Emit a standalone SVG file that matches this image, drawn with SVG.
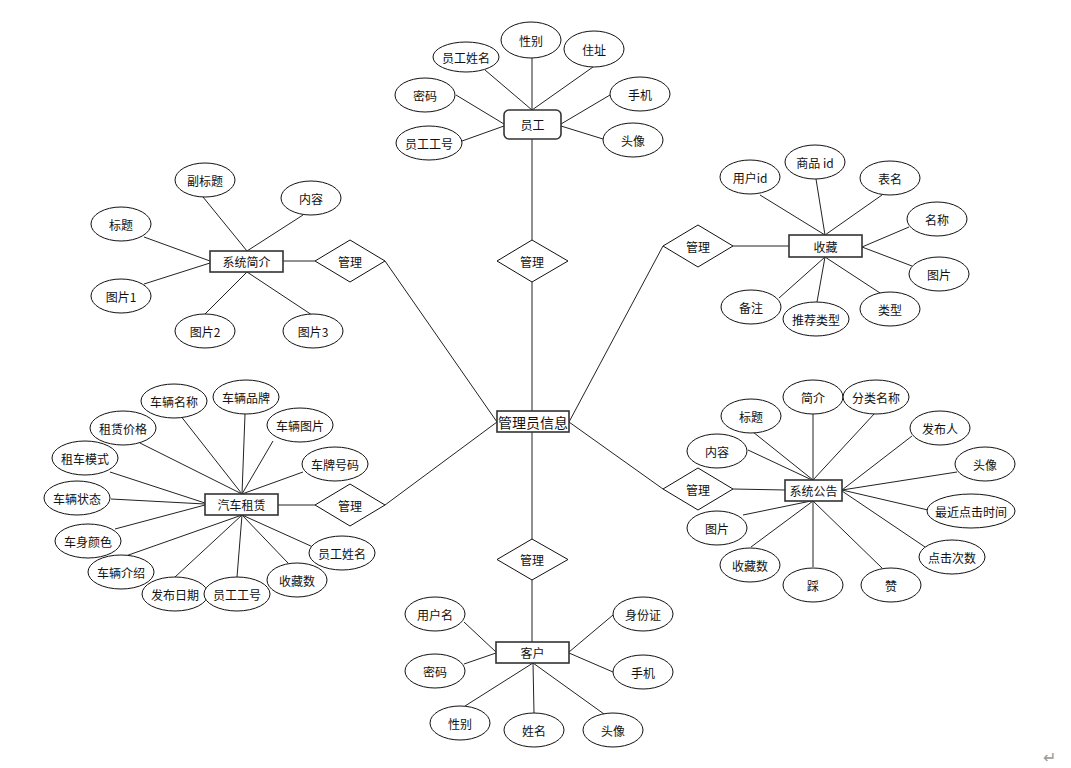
<svg xmlns="http://www.w3.org/2000/svg" width="1071" height="768" viewBox="0 0 1071 768">
<style>
text{font-family:"Noto Sans CJK SC","Liberation Sans",sans-serif;font-size:12px;fill:#111;text-anchor:middle;dominant-baseline:central}
.e{fill:#fff;stroke:#111;stroke-width:1}
.r{fill:#fff;stroke:#333;stroke-width:1.6}
.d{fill:#fff;stroke:#111;stroke-width:1}
#conn line{stroke:#222;stroke-width:1}
.big{font-size:14px}
</style>
<rect width="1071" height="768" fill="#fff"/>
<g id="conn">
<line x1="532" y1="139" x2="532" y2="240"/>
<line x1="532" y1="282" x2="532" y2="411"/>
<line x1="532" y1="432" x2="532" y2="539"/>
<line x1="532" y1="580" x2="532" y2="642"/>
<line x1="385" y1="261" x2="497" y2="422"/>
<line x1="283" y1="261" x2="315" y2="261"/>
<line x1="385" y1="505" x2="497" y2="422"/>
<line x1="278" y1="505" x2="315" y2="505"/>
<line x1="663" y1="246" x2="569" y2="422"/>
<line x1="733" y1="246" x2="789" y2="246"/>
<line x1="663" y1="489" x2="569" y2="422"/>
<line x1="733" y1="489" x2="785" y2="490"/>
<line x1="485" y1="70" x2="532" y2="110"/>
<line x1="532" y1="58" x2="532" y2="110"/>
<line x1="593" y1="67" x2="532" y2="110"/>
<line x1="456" y1="95" x2="504" y2="124"/>
<line x1="462" y1="141" x2="504" y2="126"/>
<line x1="610" y1="95" x2="561" y2="124"/>
<line x1="603" y1="139" x2="561" y2="126"/>
<line x1="464" y1="622" x2="496" y2="652"/>
<line x1="464" y1="664" x2="496" y2="653"/>
<line x1="465" y1="706" x2="533" y2="663"/>
<line x1="534" y1="713" x2="533" y2="663"/>
<line x1="604" y1="714" x2="533" y2="663"/>
<line x1="613" y1="615" x2="569" y2="652"/>
<line x1="613" y1="672" x2="569" y2="653"/>
<line x1="203" y1="197" x2="247" y2="251"/>
<line x1="303" y1="215" x2="247" y2="251"/>
<line x1="144" y1="237" x2="210" y2="261"/>
<line x1="144" y1="284" x2="210" y2="263"/>
<line x1="204" y1="315" x2="247" y2="272"/>
<line x1="312" y1="315" x2="247" y2="272"/>
<line x1="760" y1="195" x2="825" y2="235"/>
<line x1="816" y1="179" x2="825" y2="235"/>
<line x1="882" y1="195" x2="825" y2="235"/>
<line x1="909" y1="227" x2="862" y2="247"/>
<line x1="912" y1="266" x2="862" y2="247"/>
<line x1="880" y1="293" x2="825" y2="257"/>
<line x1="817" y1="302" x2="825" y2="257"/>
<line x1="779" y1="298" x2="825" y2="257"/>
<line x1="180" y1="415" x2="242" y2="494"/>
<line x1="245" y1="414" x2="242" y2="494"/>
<line x1="273" y1="441" x2="242" y2="494"/>
<line x1="303" y1="472" x2="242" y2="494"/>
<line x1="140" y1="443" x2="242" y2="494"/>
<line x1="110" y1="472" x2="205" y2="503"/>
<line x1="111" y1="499" x2="205" y2="504"/>
<line x1="115" y1="529" x2="205" y2="505"/>
<line x1="120" y1="558" x2="242" y2="515"/>
<line x1="175" y1="577" x2="242" y2="515"/>
<line x1="237" y1="577" x2="242" y2="515"/>
<line x1="288" y1="563" x2="242" y2="515"/>
<line x1="313" y1="547" x2="242" y2="515"/>
<line x1="753" y1="432" x2="813" y2="480"/>
<line x1="813" y1="413" x2="813" y2="480"/>
<line x1="875" y1="413" x2="813" y2="480"/>
<line x1="748" y1="450" x2="812" y2="480"/>
<line x1="912" y1="436" x2="842" y2="490"/>
<line x1="957" y1="472" x2="842" y2="490"/>
<line x1="928" y1="510" x2="842" y2="490"/>
<line x1="925" y1="547" x2="842" y2="491"/>
<line x1="882" y1="568" x2="813" y2="501"/>
<line x1="813" y1="567" x2="813" y2="501"/>
<line x1="751" y1="547" x2="813" y2="501"/>
<line x1="743" y1="515" x2="811" y2="501"/>
</g>
<g id="admin"><rect class="r" x="497" y="411" width="72" height="21"/><text class="big" x="533" y="421.5">管理员信息</text></g>
<g id="d_top"><polygon class="d" points="532,240 568,261 532,282 497,261"/><text x="532" y="261">管理</text></g>
<g id="d_bottom"><polygon class="d" points="532,539 568,559.5 532,580 497,559.5"/><text x="532" y="559.5">管理</text></g>
<g id="d_lt"><polygon class="d" points="350,240 385,261 350,282 315,261"/><text x="350" y="261">管理</text></g>
<g id="d_lb"><polygon class="d" points="350,484 385,505 350,526 315,505"/><text x="350" y="505">管理</text></g>
<g id="d_rt"><polygon class="d" points="698,225 733,246 698,267 663,246"/><text x="698" y="246">管理</text></g>
<g id="d_rb"><polygon class="d" points="698,468 733,489 698,510 663,489"/><text x="698" y="489">管理</text></g>
<g id="yuangong"><rect class="r" x="504" y="110" width="57" height="29" rx="5"/><text x="532.5" y="124.5">员工</text></g>
<g id="yg_xm"><ellipse class="e" cx="466" cy="57" rx="33" ry="15"/><text x="466" y="57">员工姓名</text></g>
<g id="yg_xb"><ellipse class="e" cx="531" cy="40" rx="30" ry="18"/><text x="531" y="40">性别</text></g>
<g id="yg_zz"><ellipse class="e" cx="594" cy="49" rx="30" ry="18"/><text x="594" y="49">住址</text></g>
<g id="yg_mm"><ellipse class="e" cx="425" cy="95" rx="30" ry="17"/><text x="425" y="95">密码</text></g>
<g id="yg_gh"><ellipse class="e" cx="429" cy="143" rx="33" ry="17"/><text x="429" y="143">员工工号</text></g>
<g id="yg_sj"><ellipse class="e" cx="640" cy="94" rx="30" ry="17"/><text x="640" y="94">手机</text></g>
<g id="yg_tx"><ellipse class="e" cx="633" cy="140" rx="30" ry="17"/><text x="633" y="140">头像</text></g>
<g id="kehu"><rect class="r" x="496" y="642" width="73" height="21"/><text x="532.5" y="652.5">客户</text></g>
<g id="kh_yhm"><ellipse class="e" cx="435" cy="614" rx="30" ry="17"/><text x="435" y="614">用户名</text></g>
<g id="kh_mm"><ellipse class="e" cx="435" cy="671" rx="30" ry="17"/><text x="435" y="671">密码</text></g>
<g id="kh_xb"><ellipse class="e" cx="460" cy="723" rx="30" ry="17"/><text x="460" y="723">性别</text></g>
<g id="kh_xm"><ellipse class="e" cx="534" cy="730" rx="30" ry="17"/><text x="534" y="730">姓名</text></g>
<g id="kh_tx"><ellipse class="e" cx="613" cy="730" rx="30" ry="17"/><text x="613" y="730">头像</text></g>
<g id="kh_sfz"><ellipse class="e" cx="643" cy="614" rx="30" ry="17"/><text x="643" y="614">身份证</text></g>
<g id="kh_sj"><ellipse class="e" cx="643" cy="672" rx="30" ry="17"/><text x="643" y="672">手机</text></g>
<g id="xtjj"><rect class="r" x="210" y="251" width="73" height="21"/><text x="246.5" y="261.5">系统简介</text></g>
<g id="jj_fbt"><ellipse class="e" cx="205" cy="180" rx="30" ry="17"/><text x="205" y="180">副标题</text></g>
<g id="jj_nr"><ellipse class="e" cx="311" cy="198" rx="30" ry="17"/><text x="311" y="198">内容</text></g>
<g id="jj_bt"><ellipse class="e" cx="121" cy="224" rx="30" ry="17"/><text x="121" y="224">标题</text></g>
<g id="jj_tp1"><ellipse class="e" cx="121" cy="296" rx="30" ry="17"/><text x="121" y="296">图片1</text></g>
<g id="jj_tp2"><ellipse class="e" cx="205" cy="331" rx="30" ry="17"/><text x="205" y="331">图片2</text></g>
<g id="jj_tp3"><ellipse class="e" cx="313" cy="331" rx="30" ry="17"/><text x="313" y="331">图片3</text></g>
<g id="shoucang"><rect class="r" x="789" y="235" width="73" height="22"/><text x="825.5" y="246">收藏</text></g>
<g id="sc_yhid"><ellipse class="e" cx="750" cy="177" rx="30" ry="17"/><text x="750" y="177">用户id</text></g>
<g id="sc_spid"><ellipse class="e" cx="815" cy="162" rx="30" ry="17"/><text x="815" y="162">商品 id</text></g>
<g id="sc_bm"><ellipse class="e" cx="890" cy="178" rx="30" ry="17"/><text x="890" y="178">表名</text></g>
<g id="sc_mc"><ellipse class="e" cx="937" cy="219" rx="30" ry="17"/><text x="937" y="219">名称</text></g>
<g id="sc_tp"><ellipse class="e" cx="939" cy="274" rx="30" ry="17"/><text x="939" y="274">图片</text></g>
<g id="sc_lx"><ellipse class="e" cx="890" cy="309" rx="30" ry="17"/><text x="890" y="309">类型</text></g>
<g id="sc_tjlx"><ellipse class="e" cx="816" cy="319" rx="33" ry="17"/><text x="816" y="319">推荐类型</text></g>
<g id="sc_bz"><ellipse class="e" cx="751" cy="307" rx="30" ry="17"/><text x="751" y="307">备注</text></g>
<g id="qczl"><rect class="r" x="205" y="494" width="73" height="21"/><text x="241.5" y="504.5">汽车租赁</text></g>
<g id="zl_clmc"><ellipse class="e" cx="174" cy="401" rx="33" ry="17"/><text x="174" y="401">车辆名称</text></g>
<g id="zl_clpp"><ellipse class="e" cx="246" cy="397" rx="33" ry="17"/><text x="246" y="397">车辆品牌</text></g>
<g id="zl_zljg"><ellipse class="e" cx="123" cy="428" rx="33" ry="17"/><text x="123" y="428">租赁价格</text></g>
<g id="zl_cltp"><ellipse class="e" cx="300" cy="425" rx="33" ry="17"/><text x="300" y="425">车辆图片</text></g>
<g id="zl_zcms"><ellipse class="e" cx="85" cy="458" rx="33" ry="17"/><text x="85" y="458">租车模式</text></g>
<g id="zl_cphm"><ellipse class="e" cx="335" cy="464" rx="33" ry="17"/><text x="335" y="464">车牌号码</text></g>
<g id="zl_clzt"><ellipse class="e" cx="77" cy="498" rx="33" ry="17"/><text x="77" y="498">车辆状态</text></g>
<g id="zl_csys"><ellipse class="e" cx="88" cy="541" rx="33" ry="17"/><text x="88" y="541">车身颜色</text></g>
<g id="zl_cljs"><ellipse class="e" cx="121" cy="572" rx="33" ry="17"/><text x="121" y="572">车辆介绍</text></g>
<g id="zl_fbrq"><ellipse class="e" cx="175" cy="594" rx="33" ry="17"/><text x="175" y="594">发布日期</text></g>
<g id="zl_yggh"><ellipse class="e" cx="237" cy="594" rx="33" ry="17"/><text x="237" y="594">员工工号</text></g>
<g id="zl_scs"><ellipse class="e" cx="297" cy="580" rx="30" ry="17"/><text x="297" y="580">收藏数</text></g>
<g id="zl_ygxm"><ellipse class="e" cx="342" cy="553" rx="33" ry="17"/><text x="342" y="553">员工姓名</text></g>
<g id="xtgg"><rect class="r" x="785" y="480" width="57" height="21"/><text x="813.5" y="490.5">系统公告</text></g>
<g id="gg_bt"><ellipse class="e" cx="751" cy="416" rx="30" ry="17"/><text x="751" y="416">标题</text></g>
<g id="gg_jj"><ellipse class="e" cx="813" cy="397" rx="30" ry="17"/><text x="813" y="397">简介</text></g>
<g id="gg_flmc"><ellipse class="e" cx="876" cy="397" rx="33" ry="17"/><text x="876" y="397">分类名称</text></g>
<g id="gg_fbr"><ellipse class="e" cx="940" cy="428" rx="30" ry="17"/><text x="940" y="428">发布人</text></g>
<g id="gg_nr"><ellipse class="e" cx="717" cy="451" rx="30" ry="17"/><text x="717" y="451">内容</text></g>
<g id="gg_tx"><ellipse class="e" cx="985" cy="464" rx="30" ry="17"/><text x="985" y="464">头像</text></g>
<g id="gg_zjdj"><ellipse class="e" cx="971" cy="511" rx="44" ry="17"/><text x="971" y="511">最近点击时间</text></g>
<g id="gg_tp"><ellipse class="e" cx="717" cy="528" rx="30" ry="17"/><text x="717" y="528">图片</text></g>
<g id="gg_djcs"><ellipse class="e" cx="952" cy="557" rx="33" ry="17"/><text x="952" y="557">点击次数</text></g>
<g id="gg_scs"><ellipse class="e" cx="750" cy="565" rx="30" ry="17"/><text x="750" y="565">收藏数</text></g>
<g id="gg_cai"><ellipse class="e" cx="813" cy="585" rx="30" ry="17"/><text x="813" y="585">踩</text></g>
<g id="gg_zan"><ellipse class="e" cx="891" cy="585" rx="30" ry="17"/><text x="891" y="585">赞</text></g>
<text x="1049" y="756" style="font-size:16px;fill:#999">↵</text>
</svg>
